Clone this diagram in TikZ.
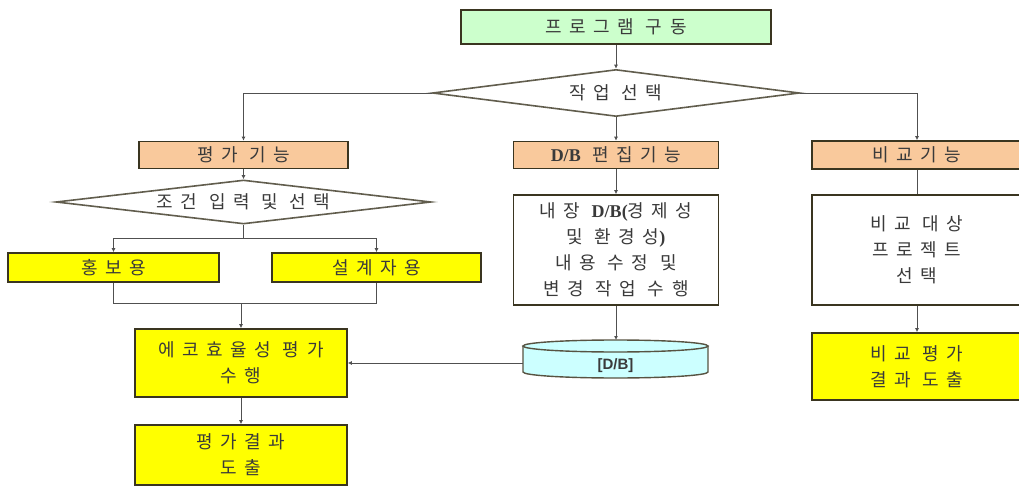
\documentclass[tikz,border=0pt]{standalone}
\usepackage{fontspec}
\setmainfont{Noto Sans CJK KR}[LetterSpace=42]
\newfontfamily\lser{Liberation Serif}
\newfontfamily\lsans{Liberation Sans}
\usetikzlibrary{shapes.geometric,arrows.meta,calc}
\definecolor{grn}{HTML}{CCFFCC}
\definecolor{org}{HTML}{F9C99C}
\definecolor{ylw}{HTML}{FFFF00}
\definecolor{cyn}{HTML}{CCFFFF}
\definecolor{txt}{HTML}{3A3A3A}
\definecolor{edge}{HTML}{3A3520}
\definecolor{lin}{HTML}{505050}
\begin{document}
\begin{tikzpicture}[x=1pt,y=-1pt,
  box/.style={draw=edge,line width=1.6pt,inner sep=0pt,align=center,
    font=\fontsize{18}{26}\selectfont,text=txt},
  dia/.style={shape=diamond,draw=edge!80,line width=1.6pt,fill=white,inner sep=0pt,
    font=\fontsize{18}{20}\selectfont,text=txt},
  arr/.style={draw=lin,line width=0.9pt,-{Latex[length=4pt,width=4pt]}},
  ln/.style={draw=lin,line width=0.9pt}]
\useasboundingbox (0,0) rectangle (1019,486);

% nodes
\node[box,fill=grn,minimum width=310,minimum height=34] (start) at (616,27) {프로그램 구동};
\node[dia,shape aspect=7.8,minimum width=367,minimum height=47] (d1) at (616,93) {작업 선택};

\node[box,fill=org,minimum width=209,minimum height=27] (pg) at (243.5,155) {평가 기능};
\node[box,fill=org,minimum width=205,minimum height=27] (dbe) at (616,155) {{\lser\bfseries D/B} 편집기능};
\node[box,fill=org,minimum width=210,minimum height=28] (cmp) at (917,155) {비교기능};

\node[dia,shape aspect=8.5,minimum width=375,minimum height=44] (d2) at (243.5,202) {조건 입력 및 선택};

\node[box,fill=ylw,minimum width=211,minimum height=29] (hong) at (113.5,267.5) {홍보용};
\node[box,fill=ylw,minimum width=209,minimum height=29] (sul) at (376.5,267.5) {설계자용};

\node[box,fill=ylw,minimum width=212,minimum height=68] (eco) at (241,363) {에코효율성 평가\\수행};
\node[box,fill=ylw,minimum width=212,minimum height=60] (res) at (241,455) {평가결과\\도출};

\node[box,fill=white,minimum width=205,minimum height=110] (dbt) at (616,250)
  {내장 {\lser\bfseries D/B(}경제성\\및 환경성{\lser\bfseries )}\\내용 수정 및\\변경 작업 수행};

% cylinder (drawn directly)
\draw[edge!85,line width=1.4pt,fill=cyn] (523,346) -- (523,372) arc[start angle=180,end angle=360,x radius=92.5,y radius=-6] -- (708,346);
\draw[edge!85,line width=1.4pt,fill=cyn] (615.5,346) ellipse[x radius=92.5,y radius=6];
\node[inner sep=0pt,minimum width=185,minimum height=24,font=\lsans\bfseries\fontsize{15}{18}\selectfont,text=txt] (db) at (615.5,366) {[D/B]};
\coordinate (dbtop) at (616,340);

\node[box,fill=white,minimum width=210,minimum height=110] (csel) at (917,250) {비교 대상\\프로젝트\\선택};
\node[box,fill=ylw,minimum width=210,minimum height=67] (cres) at (917,366.5) {비교 평가\\결과 도출};

% connectors
\draw[arr] (start.south) -- (d1.north);
\draw[arr] (d1.west) -| (pg.north);
\draw[arr] (d1.east) -| (cmp.north);
\draw[arr] (d1.south) -- (dbe.north);
\draw[arr] (pg.south) -- (d2.north);
\draw[ln] (d2.south) -- ++(0,14) coordinate (split);
\draw[arr] (split) -| (hong.north);
\draw[arr] (split) -| (sul.north);
\draw[ln] (hong.south) -- ++(0,21) coordinate (mergeL);
\draw[ln] (sul.south) -- ++(0,21) coordinate (mergeR);
\draw[ln] (mergeL) -- (mergeR);
\coordinate (merge) at (mergeL -| eco.north);
\draw[arr] (merge) -- (eco.north);
\draw[arr] (eco.south) -- (res.north);
\draw[arr] (dbe.south) -- (dbt.north);
\draw[arr] (dbt.south) -- (dbtop);
\draw[arr] (db.west |- eco.east) -- (eco.east);
\draw[ln] (cmp.south) -- (csel.north);
\draw[arr] (csel.south) -- (cres.north);
\end{tikzpicture}
\end{document}
